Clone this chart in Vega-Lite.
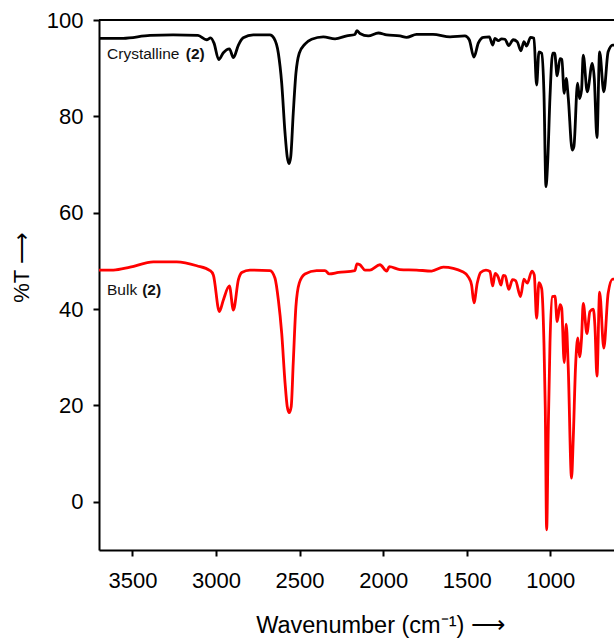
{"$schema":"https://vega.github.io/schema/vega-lite/v6.json","width":515,"height":530,"autosize":{"type":"none"},"padding":{"left":99,"top":20,"right":0,"bottom":92},"background":"white","config":{"view":{"stroke":null},"font":"Liberation Sans"},
"datasets":{"spectra":[
{"s":"Crystalline","wn":3694,"t":96.2},{"s":"Crystalline","wn":3556,"t":96.2},{"s":"Crystalline","wn":3395,"t":96.8},{"s":"Crystalline","wn":3257,"t":96.9},{"s":"Crystalline","wn":3108,"t":96.8},{"s":"Crystalline","wn":3056,"t":95.9},{"s":"Crystalline","wn":3032,"t":96.3},{"s":"Crystalline","wn":3012,"t":95.2},{"s":"Crystalline","wn":2984,"t":91.8},{"s":"Crystalline","wn":2956,"t":93.2},{"s":"Crystalline","wn":2920,"t":94},{"s":"Crystalline","wn":2896,"t":92.2},{"s":"Crystalline","wn":2866,"t":94.8},{"s":"Crystalline","wn":2837,"t":96.3},{"s":"Crystalline","wn":2777,"t":96.9},{"s":"Crystalline","wn":2677,"t":96.9},{"s":"Crystalline","wn":2653,"t":96.2},{"s":"Crystalline","wn":2627,"t":93.1},{"s":"Crystalline","wn":2607,"t":86.9},{"s":"Crystalline","wn":2587,"t":76.5},{"s":"Crystalline","wn":2574,"t":71.6},{"s":"Crystalline","wn":2563,"t":70.2},{"s":"Crystalline","wn":2553,"t":71.6},{"s":"Crystalline","wn":2538,"t":80.6},{"s":"Crystalline","wn":2522,"t":88.9},{"s":"Crystalline","wn":2502,"t":93.1},{"s":"Crystalline","wn":2468,"t":95},{"s":"Crystalline","wn":2428,"t":96},{"s":"Crystalline","wn":2358,"t":96.5},{"s":"Crystalline","wn":2288,"t":96.1},{"s":"Crystalline","wn":2218,"t":96.7},{"s":"Crystalline","wn":2169,"t":97},{"s":"Crystalline","wn":2157,"t":97.8},{"s":"Crystalline","wn":2139,"t":97.2},{"s":"Crystalline","wn":2089,"t":96.7},{"s":"Crystalline","wn":2029,"t":97.3},{"s":"Crystalline","wn":1979,"t":96.9},{"s":"Crystalline","wn":1900,"t":96.7},{"s":"Crystalline","wn":1860,"t":96.4},{"s":"Crystalline","wn":1800,"t":97},{"s":"Crystalline","wn":1702,"t":97},{"s":"Crystalline","wn":1600,"t":96.5},{"s":"Crystalline","wn":1511,"t":96.7},{"s":"Crystalline","wn":1485,"t":95.9},{"s":"Crystalline","wn":1457,"t":92.3},{"s":"Crystalline","wn":1431,"t":95.2},{"s":"Crystalline","wn":1401,"t":96.4},{"s":"Crystalline","wn":1365,"t":96.5},{"s":"Crystalline","wn":1345,"t":94.8},{"s":"Crystalline","wn":1331,"t":96.2},{"s":"Crystalline","wn":1311,"t":95.7},{"s":"Crystalline","wn":1291,"t":96.1},{"s":"Crystalline","wn":1271,"t":96},{"s":"Crystalline","wn":1249,"t":94.7},{"s":"Crystalline","wn":1222,"t":95.9},{"s":"Crystalline","wn":1198,"t":95.5},{"s":"Crystalline","wn":1176,"t":93.6},{"s":"Crystalline","wn":1158,"t":95.5},{"s":"Crystalline","wn":1142,"t":94.6},{"s":"Crystalline","wn":1118,"t":96.4},{"s":"Crystalline","wn":1098,"t":96.2},{"s":"Crystalline","wn":1082,"t":86.5},{"s":"Crystalline","wn":1068,"t":93.4},{"s":"Crystalline","wn":1052,"t":93.1},{"s":"Crystalline","wn":1038,"t":84.8},{"s":"Crystalline","wn":1026,"t":65.4},{"s":"Crystalline","wn":1016,"t":70.3},{"s":"Crystalline","wn":1002,"t":84},{"s":"Crystalline","wn":986,"t":93.1},{"s":"Crystalline","wn":974,"t":93.1},{"s":"Crystalline","wn":959,"t":88.4},{"s":"Crystalline","wn":942,"t":92},{"s":"Crystalline","wn":931,"t":91.8},{"s":"Crystalline","wn":917,"t":84.8},{"s":"Crystalline","wn":905,"t":87.9},{"s":"Crystalline","wn":893,"t":84},{"s":"Crystalline","wn":869,"t":73},{"s":"Crystalline","wn":859,"t":73.7},{"s":"Crystalline","wn":837,"t":86.9},{"s":"Crystalline","wn":825,"t":83.7},{"s":"Crystalline","wn":813,"t":85.5},{"s":"Crystalline","wn":803,"t":92.7},{"s":"Crystalline","wn":779,"t":85.1},{"s":"Crystalline","wn":749,"t":91},{"s":"Crystalline","wn":737,"t":87.9},{"s":"Crystalline","wn":721,"t":75.6},{"s":"Crystalline","wn":705,"t":93.4},{"s":"Crystalline","wn":680,"t":85.1},{"s":"Crystalline","wn":654,"t":93.4},{"s":"Crystalline","wn":627,"t":94.8},{"s":"Crystalline","wn":619,"t":94.8},
{"s":"Bulk","wn":3700,"t":48.1},{"s":"Bulk","wn":3614,"t":48.1},{"s":"Bulk","wn":3514,"t":48.7},{"s":"Bulk","wn":3375,"t":49.8},{"s":"Bulk","wn":3235,"t":49.8},{"s":"Bulk","wn":3115,"t":49},{"s":"Bulk","wn":3036,"t":48},{"s":"Bulk","wn":3016,"t":47.1},{"s":"Bulk","wn":2980,"t":39.5},{"s":"Bulk","wn":2956,"t":41.9},{"s":"Bulk","wn":2920,"t":44.8},{"s":"Bulk","wn":2896,"t":39.8},{"s":"Bulk","wn":2866,"t":46.1},{"s":"Bulk","wn":2846,"t":47.6},{"s":"Bulk","wn":2797,"t":48.1},{"s":"Bulk","wn":2677,"t":48},{"s":"Bulk","wn":2647,"t":46.4},{"s":"Bulk","wn":2627,"t":41.9},{"s":"Bulk","wn":2607,"t":35},{"s":"Bulk","wn":2587,"t":24.7},{"s":"Bulk","wn":2574,"t":19.8},{"s":"Bulk","wn":2562,"t":18.5},{"s":"Bulk","wn":2550,"t":19.8},{"s":"Bulk","wn":2538,"t":28.8},{"s":"Bulk","wn":2522,"t":40.5},{"s":"Bulk","wn":2502,"t":45.4},{"s":"Bulk","wn":2468,"t":47.3},{"s":"Bulk","wn":2398,"t":48},{"s":"Bulk","wn":2348,"t":48},{"s":"Bulk","wn":2322,"t":47.3},{"s":"Bulk","wn":2268,"t":47.6},{"s":"Bulk","wn":2169,"t":48},{"s":"Bulk","wn":2157,"t":49.4},{"s":"Bulk","wn":2139,"t":49.2},{"s":"Bulk","wn":2109,"t":48.1},{"s":"Bulk","wn":2079,"t":48.1},{"s":"Bulk","wn":2019,"t":49.2},{"s":"Bulk","wn":1979,"t":47.9},{"s":"Bulk","wn":1963,"t":48.8},{"s":"Bulk","wn":1900,"t":48.2},{"s":"Bulk","wn":1800,"t":48.1},{"s":"Bulk","wn":1710,"t":47.9},{"s":"Bulk","wn":1640,"t":48.7},{"s":"Bulk","wn":1521,"t":47.7},{"s":"Bulk","wn":1491,"t":46.7},{"s":"Bulk","wn":1471,"t":45},{"s":"Bulk","wn":1457,"t":41.3},{"s":"Bulk","wn":1437,"t":45.4},{"s":"Bulk","wn":1417,"t":47.6},{"s":"Bulk","wn":1385,"t":48.1},{"s":"Bulk","wn":1361,"t":47.8},{"s":"Bulk","wn":1345,"t":44.8},{"s":"Bulk","wn":1330,"t":47.4},{"s":"Bulk","wn":1311,"t":46.6},{"s":"Bulk","wn":1295,"t":45},{"s":"Bulk","wn":1282,"t":47},{"s":"Bulk","wn":1270,"t":46.9},{"s":"Bulk","wn":1249,"t":44.1},{"s":"Bulk","wn":1226,"t":46.1},{"s":"Bulk","wn":1208,"t":45.9},{"s":"Bulk","wn":1178,"t":42.6},{"s":"Bulk","wn":1158,"t":46.2},{"s":"Bulk","wn":1138,"t":45.4},{"s":"Bulk","wn":1110,"t":47.9},{"s":"Bulk","wn":1096,"t":47.1},{"s":"Bulk","wn":1082,"t":38.1},{"s":"Bulk","wn":1068,"t":45.5},{"s":"Bulk","wn":1052,"t":44.3},{"s":"Bulk","wn":1038,"t":32.9},{"s":"Bulk","wn":1030,"t":19.1},{"s":"Bulk","wn":1022,"t":-5.8},{"s":"Bulk","wn":1012,"t":15.6},{"s":"Bulk","wn":1002,"t":32.9},{"s":"Bulk","wn":988,"t":42.6},{"s":"Bulk","wn":972,"t":42.7},{"s":"Bulk","wn":959,"t":37.4},{"s":"Bulk","wn":942,"t":40.9},{"s":"Bulk","wn":932,"t":40.2},{"s":"Bulk","wn":917,"t":28.9},{"s":"Bulk","wn":905,"t":36.9},{"s":"Bulk","wn":893,"t":28.1},{"s":"Bulk","wn":873,"t":4.9},{"s":"Bulk","wn":863,"t":12.9},{"s":"Bulk","wn":849,"t":28.1},{"s":"Bulk","wn":835,"t":34},{"s":"Bulk","wn":825,"t":30.1},{"s":"Bulk","wn":813,"t":34},{"s":"Bulk","wn":803,"t":41.2},{"s":"Bulk","wn":781,"t":34.9},{"s":"Bulk","wn":763,"t":39.5},{"s":"Bulk","wn":743,"t":40},{"s":"Bulk","wn":733,"t":36.4},{"s":"Bulk","wn":721,"t":26.1},{"s":"Bulk","wn":705,"t":43.5},{"s":"Bulk","wn":680,"t":31.9},{"s":"Bulk","wn":654,"t":43.3},{"s":"Bulk","wn":627,"t":46.2},{"s":"Bulk","wn":619,"t":46.2}
]},
"layer":[
{"data":{"name":"spectra"},"mark":{"type":"line","interpolate":"monotone","strokeWidth":2.8,"clip":true,"strokeJoin":"round"},
"encoding":{
"x":{"field":"wn","type":"quantitative","scale":{"domain":[3700,619],"nice":false,"zero":false},
"axis":{"values":[3500,3000,2500,2000,1500,1000],"format":"d","grid":false,"domainColor":"black","domainWidth":2,"tickColor":"black","tickWidth":2,"tickSize":6,"labelFontSize":22,"labelColor":"black","labelPadding":14,"labelFlush":false,"labelOverlap":false,"title":"Wavenumber (cm⁻¹) ⟶","titleFontSize":23.5,"titleFontWeight":"normal","titleColor":"black","titleX":281,"titleY":82,"titleBaseline":"alphabetic","titleAnchor":"middle","titleAlign":"center"}},
"y":{"field":"t","type":"quantitative","scale":{"domain":[-10,100],"nice":false,"zero":false},
"axis":{"values":[0,20,40,60,80,100],"grid":false,"domainColor":"black","domainWidth":2,"tickColor":"black","tickWidth":2,"tickSize":6,"labelFontSize":22,"labelColor":"black","labelPadding":10,"labelFlush":false,"labelOverlap":false,"title":"%T ⟶","titleFontSize":22,"titleFontWeight":"normal","titleColor":"black","titleX":-71,"titleY":247,"titleBaseline":"alphabetic","titleAnchor":"middle","titleAlign":"center"}},
"color":{"field":"s","type":"nominal","scale":{"domain":["Crystalline","Bulk"],"range":["#000000","#ff0000"]},"legend":null},
"detail":{"field":"s"}}},
{"data":{"values":[{"y":100}]},"mark":{"type":"rule","color":"black","strokeWidth":2},"encoding":{"y":{"field":"y","type":"quantitative"}}},
{"data":{"values":[{"wn":3652,"t":93,"label":"Crystalline"},{"wn":3652,"t":44,"label":"Bulk"}]},"mark":{"type":"text","align":"left","baseline":"middle","fontSize":15.5,"color":"#111111"},"encoding":{"x":{"field":"wn","type":"quantitative"},"y":{"field":"t","type":"quantitative"},"text":{"field":"label"}}},
{"data":{"values":[{"wn":3181,"t":93,"label":"(2)"},{"wn":3442,"t":44,"label":"(2)"}]},"mark":{"type":"text","align":"left","baseline":"middle","fontSize":15.5,"fontWeight":"bold","color":"#111111"},"encoding":{"x":{"field":"wn","type":"quantitative"},"y":{"field":"t","type":"quantitative"},"text":{"field":"label"}}}
]}
